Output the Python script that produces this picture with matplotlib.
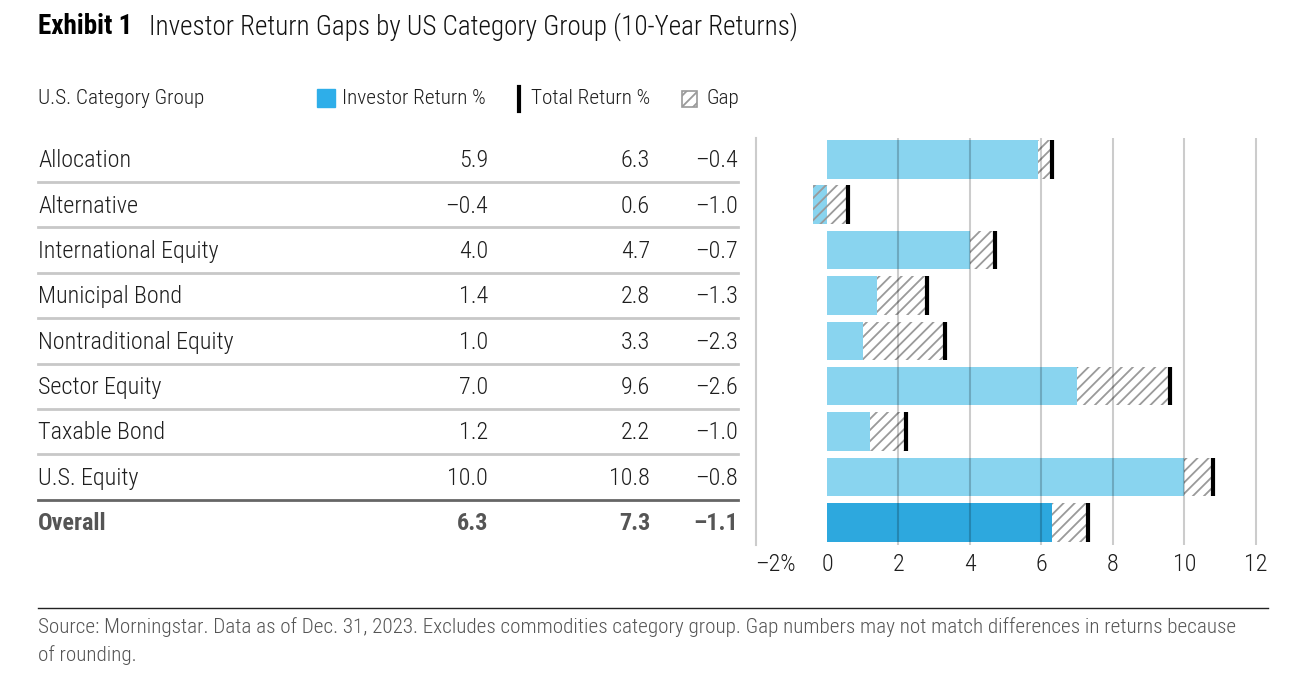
import matplotlib
matplotlib.use("Agg")
import matplotlib.pyplot as plt
import matplotlib.transforms as mtransforms
from matplotlib.patches import Rectangle
import numpy as np

plt.rcParams['font.family'] = ['Roboto Condensed', 'DejaVu Sans']
plt.rcParams['font.weight'] = 300
plt.rcParams['hatch.linewidth'] = 1.3

categories = ["Allocation", "Alternative", "International Equity", "Municipal Bond",
              "Nontraditional Equity", "Sector Equity", "Taxable Bond", "U.S. Equity", "Overall"]
investor_ret = [5.9, -0.4, 4.0, 1.4, 1.0, 7.0, 1.2, 10.0, 6.3]
total_ret = [6.3, 0.6, 4.7, 2.8, 3.3, 9.6, 2.2, 10.8, 7.3]
gap = [-0.4, -1.0, -0.7, -1.3, -2.3, -2.6, -1.0, -0.8, -1.1]
xticks = [-2, 0, 2, 4, 6, 8, 10, 12]
xtick_labels = ["\u20132%", "0", "2", "4", "6", "8", "10", "12"]

W, H = 1306, 682
fig = plt.figure(figsize=(W / 100, H / 100), dpi=100)

def fx(px):
    return px / W

def fy(py):
    return 1 - py / H

light_blue = "#89d4ef"
dark_blue = "#2da8de"
txt = "#1e1e1e"
fs = 17.4

ax = fig.add_axes([fx(755.5), fy(545), fx(1263) - fx(755.5), fy(138) - fy(545)])
y = np.arange(len(categories))
bh = 0.85
colors = [light_blue] * (len(categories) - 1) + [dark_blue]
ax.barh(y, investor_ret, height=bh, color=colors, zorder=2)
ax.barh(y, np.array(total_ret) - np.array(investor_ret), left=investor_ret, height=bh,
        color="none", edgecolor="#9a9a9a", hatch="///", linewidth=0, zorder=3)
ax.vlines(total_ret, y - bh / 2, y + bh / 2, color="black", linewidth=3, zorder=4)
for gx in xticks[2:]:
    ax.axvline(gx, color="black", alpha=0.2, linewidth=1.5, zorder=5)
ax.set_xlim(-2, 12.2)
ax.set_ylim(len(categories) - 0.5, -0.47)
ax.set_yticks([])
ax.set_xticks(xticks)
ax.set_xticklabels(xtick_labels, fontsize=fs, color=txt)
ax.get_xticklabels()[0].set_ha("left")
ax.tick_params(axis="x", length=0, pad=6)
for s in ["top", "right", "bottom"]:
    ax.spines[s].set_visible(False)
ax.spines["left"].set_color("#cccccc")
ax.spines["left"].set_linewidth(1.5)

# table on the left, rows tied to the bar rows
tr = mtransforms.blended_transform_factory(fig.transFigure, ax.transData)
for i, cat in enumerate(categories):
    w = "bold" if cat == "Overall" else 300
    c = "#555555" if cat == "Overall" else txt
    fig.text(fx(38), i + 0.03, cat, transform=tr, fontsize=fs, color=c, va="center", fontweight=w)
    fig.text(fx(488), i + 0.03, f"{investor_ret[i]:.1f}".replace("-", "\u2013"), transform=tr,
             fontsize=fs, color=c, va="center", ha="right", fontweight=w)
    fig.text(fx(650), i + 0.03, f"{total_ret[i]:.1f}".replace("-", "\u2013"), transform=tr,
             fontsize=fs, color=c, va="center", ha="right", fontweight=w)
    fig.text(fx(738), i + 0.03, f"{gap[i]:.1f}".replace("-", "\u2013"), transform=tr,
             fontsize=fs, color=c, va="center", ha="right", fontweight=w)
    if i < len(categories) - 1:
        last = i == len(categories) - 2
        fig.add_artist(plt.Line2D([fx(38), fx(738)], [i + 0.5, i + 0.5], transform=tr,
                                  color="#666666" if last else "#c8c8c8", linewidth=2))

# header + legend
hs = 15.3
fig.text(fx(38), fy(99), "U.S. Category Group", fontsize=hs, color=txt, va="center")
fig.add_artist(Rectangle((fx(317), fy(107)), fx(18), fy(89) - fy(107), color="#2eaee9",
                         transform=fig.transFigure))
fig.text(fx(342), fy(99), "Investor Return %", fontsize=hs, color=txt, va="center")
fig.add_artist(plt.Line2D([fx(519), fx(519)], [fy(111), fy(87)], color="black", linewidth=3))
fig.text(fx(531), fy(99), "Total Return %", fontsize=hs, color=txt, va="center")
fig.add_artist(Rectangle((fx(682), fy(107)), fx(15), fy(91) - fy(107), facecolor="white",
                         edgecolor="#9a9a9a", hatch="///", linewidth=1.2,
                         transform=fig.transFigure))
fig.text(fx(706), fy(99), "Gap", fontsize=hs, color=txt, va="center")

# title
fig.text(fx(38), fy(27), "Exhibit 1", fontsize=19.5, fontweight="bold", color="black", va="center")
fig.text(fx(149), fy(27), "Investor Return Gaps by US Category Group (10-Year Returns)",
         fontsize=19.5, color="#111111", va="center")

# footer
fig.add_artist(plt.Line2D([fx(38), fx(1268)], [fy(608), fy(608)], color="#222222", linewidth=1))
fig.text(fx(38), fy(627), "Source: Morningstar. Data as of Dec. 31, 2023. Excludes commodities "
         "category group. Gap numbers may not match differences in returns because",
         fontsize=15.2, color="#555555", va="center")
fig.text(fx(38), fy(655), "of rounding.", fontsize=15.2, color="#555555", va="center")

fig.savefig("out.png", dpi=100)
